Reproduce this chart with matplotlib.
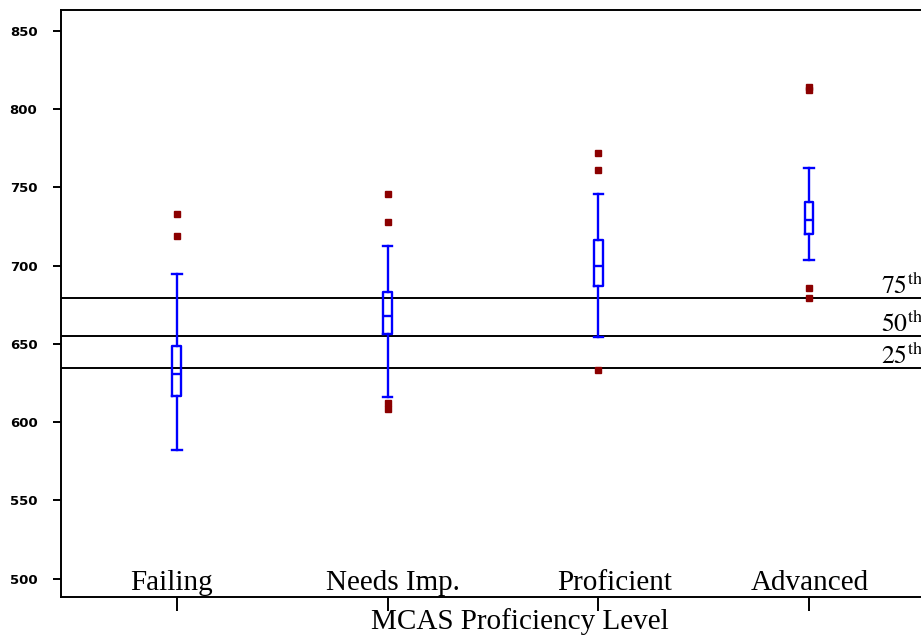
import matplotlib
matplotlib.use("Agg")
import matplotlib.pyplot as plt
import matplotlib.transforms as mtransforms

# ---- data ----
categories = ["Failing", "Needs Imp.", "Proficient", "Advanced"]
q1 = [616.8, 656.0, 687.1, 720.3]
medians = [630.9, 667.9, 699.9, 729.3]
q3 = [648.6, 683.1, 716.3, 740.6]
whislo = [582.1, 616.2, 654.1, 703.3]
whishi = [694.6, 712.5, 745.7, 762.1]
fliers = [
    [733.0, 718.8],
    [745.7, 728.0, 612.0, 608.2],
    [771.9, 761.0, 633.2],
    [814.0, 812.0, 685.8, 679.4],
]
percentile_values = [679.4, 655.1, 634.8]
percentile_labels = ["75", "50", "25"]
yticks = [500, 550, 600, 650, 700, 750, 800, 850]

plt.rcParams["mathtext.fontset"] = "stix"

fig = plt.figure(figsize=(9.21, 6.39), dpi=100)
ax = fig.add_axes([61 / 921, 42 / 639, 861 / 921, 587 / 639])

positions = list(range(1, len(categories) + 1))
stats = []
for i in range(len(categories)):
    stats.append(dict(med=medians[i], q1=q1[i], q3=q3[i],
                      whislo=whislo[i], whishi=whishi[i],
                      fliers=fliers[i], label=categories[i]))

blue = "#0000ff"
lw = 1.7
ax.bxp(stats, positions=positions, widths=0.042, capwidths=0.045,
       boxprops=dict(color=blue, linewidth=lw),
       whiskerprops=dict(color=blue, linewidth=lw),
       capprops=dict(color=blue, linewidth=lw),
       medianprops=dict(color=blue, linewidth=lw),
       flierprops=dict(marker="s", markerfacecolor="#8b0000",
                       markeredgecolor="#8b0000", markersize=4.0,
                       linestyle="none"),
       manage_ticks=False)

# percentile lines
for v in percentile_values:
    ax.axhline(v, color="black", linewidth=1.4, zorder=1)

offset = mtransforms.offset_copy(ax.transData, fig=fig, x=0, y=4, units="dots")
for v, lab in zip(percentile_values, percentile_labels):
    ax.text(4.34, v, r"$\mathrm{" + lab + r"^{th}}$", transform=offset,
            fontsize=18.5, va="baseline", ha="left", clip_on=False)

ax.set_xlim(0.45, 4.536)
ax.set_ylim(488.2, 863.3)

# y axis
ax.set_yticks(yticks)
ax.set_yticklabels([str(t) for t in yticks], fontfamily="DejaVu Sans",
                   fontweight="bold", fontsize=9.5)
ax.tick_params(axis="y", direction="out", length=6, width=1.4, pad=11)

# x axis
ax.set_xticks(positions)
ax.set_xticklabels([""] * len(positions))
ax.tick_params(axis="x", direction="out", length=10, width=1.4)
label_dx = [-5, 5, 16, 1]
for p, lab, dx in zip(positions, categories, label_dx):
    tr = mtransforms.offset_copy(ax.get_xaxis_transform(), fig=fig,
                                 x=dx, y=0, units="dots")
    ax.text(p, 0.0119, lab, transform=tr, ha="center", va="baseline",
            fontfamily="Liberation Serif", fontsize=21)

ax.set_xlabel("MCAS Proficiency Level", fontfamily="Liberation Serif",
              fontsize=21)
ax.xaxis.set_label_coords(0.533, -0.0545)
ax.xaxis.label.set_va("baseline")

for s in ax.spines.values():
    s.set_linewidth(1.4)

fig.savefig("out.png", dpi=100)
